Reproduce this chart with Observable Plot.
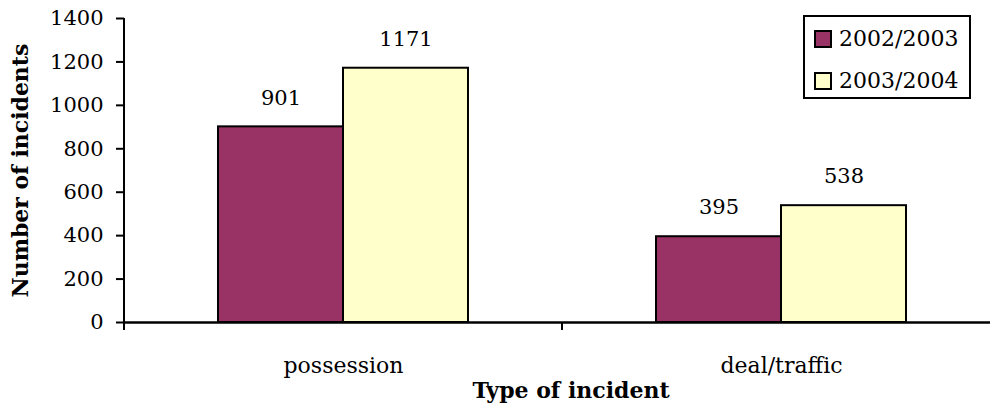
<!DOCTYPE html>
<html>
<head>
<meta charset="utf-8">
<script src="https://cdn.jsdelivr.net/npm/d3@7"></script>
<script src="https://cdn.jsdelivr.net/npm/@observablehq/plot@0.6"></script>
<style>
  html, body { margin: 0; padding: 0; background: white; overflow: hidden; }
  #wrap { position: relative; width: 990px; height: 412px; overflow: hidden; }
  #legend { position: absolute; left: 803px; top: 15px; width: 164px; height: 80px;
            border: 2px solid black; background: white; font-family: "DejaVu Serif"; font-size: 22px; }
  .row { position: absolute; left: 9px; display: flex; align-items: center; }
  .sw { width: 14px; height: 14px; border: 2px solid black; margin-right: 7px; }
</style>
</head>
<body>
<div id="wrap"></div>
<script>
const categories = ["possession", "deal/traffic"];
const years = ["2002/2003", "2003/2004"];
const values2002 = [901, 395];
const values2003 = [1171, 538];
const yTicks = [0, 200, 400, 600, 800, 1000, 1200, 1400];
const colors = ["#993366", "#FFFFCC"];

const data = [];
categories.forEach((c, i) => {
  data.push({category: c, year: years[0], value: values2002[i]});
  data.push({category: c, year: years[1], value: values2003[i]});
});

const plot = Plot.plot({
  width: 1000,
  height: 412,
  marginTop: 18,
  marginBottom: 90,
  marginLeft: 124,
  marginRight: 0,
  style: {maxWidth: "none", fontFamily: "DejaVu Serif", fontSize: "21px", background: "white", color: "black", overflow: "visible"},
  fx: {domain: categories, padding: 0},
  x: {domain: years, paddingInner: 0, paddingOuter: 0.752, axis: null},
  y: {domain: [0, 1400]},
  color: {domain: years, range: colors},
  marks: [
    Plot.barY(data, {fx: "category", x: "year", y: "value", fill: "year", stroke: "black", strokeWidth: 2, inset: 0}),
    Plot.ruleY([0], {stroke: "black", strokeWidth: 2.5}),
    Plot.text(data, {fx: "category", x: "year", y: "value", text: d => String(d.value), dy: -29, fontSize: 21, fill: "black"}),
    Plot.axisY({ticks: yTicks, tickFormat: d => String(d), tickSize: 8, tickPadding: 13, strokeWidth: 2, fontSize: 21,
      label: "Number of incidents", labelAnchor: "center", labelOffset: 112, labelArrow: "none"}),
    Plot.axisFx({anchor: "bottom", tickSize: 0, tickPadding: 35, label: null, fontSize: 22})
  ]
});

document.getElementById("wrap").appendChild(plot);

// axis lines and category-boundary ticks, from the plot's scales
const svg = d3.select(plot);
const fx = plot.scale("fx");
const y = plot.scale("y");
const y0 = y.apply(0), yTop = y.apply(1400);
const g = svg.append("g").attr("stroke", "black").attr("stroke-width", 2);
const left = fx.apply(categories[0]);
g.append("line").attr("x1", left).attr("x2", left).attr("y1", yTop).attr("y2", y0 + 8);
categories.forEach(c => {
  const xr = fx.apply(c) + fx.bandwidth;
  g.append("line").attr("x1", xr).attr("x2", xr).attr("y1", y0).attr("y2", y0 + 8);
});
// axis titles styling
svg.selectAll('g[aria-label="y-axis label"] text').attr("font-weight", "bold").attr("font-size", 22);
svg.append("text")
  .attr("x", 571).attr("y", 398)
  .attr("text-anchor", "middle")
  .attr("font-weight", "bold").attr("font-size", 22)
  .attr("fill", "black")
  .text("Type of incident");

// legend
const color = plot.scale("color");
const legend = document.createElement("div");
legend.id = "legend";
years.forEach((yr, i) => {
  const row = document.createElement("div");
  row.className = "row";
  row.style.top = (i === 0 ? 9 : 51) + "px";
  const sw = document.createElement("div");
  sw.className = "sw";
  sw.style.background = color.apply(yr);
  const t = document.createElement("span");
  t.textContent = yr;
  row.appendChild(sw); row.appendChild(t);
  legend.appendChild(row);
});
document.getElementById("wrap").appendChild(legend);
</script>
</body>
</html>
